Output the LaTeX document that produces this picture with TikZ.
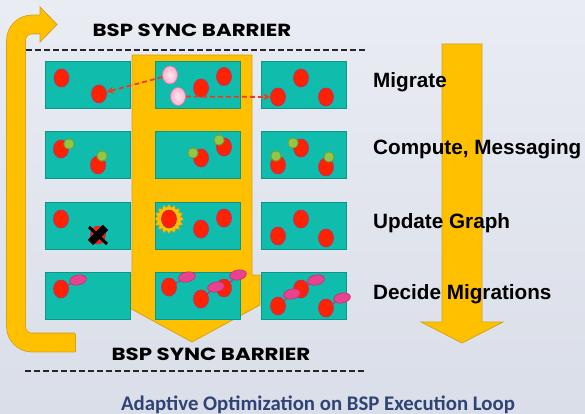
\documentclass[tikz,border=0pt]{standalone}
\usepackage{fontspec}
\setmainfont{Liberation Sans}
\newfontfamily\popfont{Poppins}[FakeStretch=1.22]
\newfontfamily\calfont{Carlito}
\usetikzlibrary{shapes.geometric,arrows.meta}
\definecolor{bgtop}{HTML}{E9ECF3}
\definecolor{bgbot}{HTML}{DADEE8}
\definecolor{gold}{HTML}{FFC000}
\definecolor{goldedge}{HTML}{D6A21A}
\definecolor{tealf}{HTML}{10BDAC}
\definecolor{teale}{HTML}{0B9686}
\definecolor{vred}{HTML}{FF2200}
\definecolor{vredge}{HTML}{B8306A}
\definecolor{pinkin}{HTML}{FFE8F0}
\definecolor{pinkf}{HTML}{FFB2CE}
\definecolor{pinke}{HTML}{E07CA4}
\definecolor{greenf}{HTML}{92C84A}
\definecolor{greene}{HTML}{6E9E2A}
\definecolor{blobf}{HTML}{E9428E}
\definecolor{blobe}{HTML}{C22E70}
\definecolor{arrred}{HTML}{F03A1E}
\definecolor{capblue}{HTML}{2F4376}
\tikzset{
  box/.style={rectangle, fill=tealf, draw=teale, line width=0.9pt, minimum width=85pt, minimum height=47pt, inner sep=0pt},
  vtx/.style={ellipse, fill=vred, draw=vredge, line width=0.7pt, minimum width=15pt, minimum height=18pt, inner sep=0pt},
  pvtx/.style={ellipse, draw=pinke, line width=0.7pt, inner color=pinkin, outer color=pinkf, minimum width=15pt, minimum height=18pt, inner sep=0pt},
  msg/.style={star, star points=12, star point ratio=1.25, fill=greenf, draw=greene, line width=0.5pt, minimum size=11pt, inner sep=0pt},
  blob/.style={ellipse, fill=blobf, draw=blobe, line width=0.6pt, minimum width=17pt, minimum height=10pt, inner sep=0pt, rotate=12},
  link/.style={draw=blobe, line width=0.9pt},
  sunst/.style={star, star points=16, star point ratio=1.25, fill=gold, draw=goldedge, line width=0.5pt, minimum size=29pt, inner sep=0pt},
  migr/.style={draw=arrred, line width=1.8pt, dash pattern=on 5pt off 3pt, -{Stealth[length=7pt,width=7pt]}},
  barrier/.style={draw=black!85, line width=2pt, dash pattern=on 6pt off 3pt},
  lab/.style={anchor=base west, font=\bfseries\fontsize{20.7}{24}\selectfont, inner sep=0pt},
  bsp/.style={anchor=base, font=\popfont\bfseries\fontsize{17.5}{20}\selectfont, inner sep=0pt},
  goldarrow/.style={fill=gold, draw=goldedge, line width=0.8pt}
}
\begin{document}
\begin{tikzpicture}[x=1pt,y=-1pt]
\useasboundingbox (0,0) rectangle (585,414);
\shade[top color=bgtop, bottom color=bgbot] (0,0) rectangle (585,414);

% left loop arrow
\draw[goldedge, line width=19.6pt, rounded corners=16pt] (75,342.5) -- (16,342.5) -- (16,24.5) -- (40.5,24.5);
\draw[gold, line width=18pt, rounded corners=16pt] (75.2,342.5) -- (16,342.5) -- (16,24.5) -- (41,24.5);
\fill[gold] (40,7) -- (57,24.5) -- (40,42) -- cycle;
\draw[goldedge, line width=0.8pt] (40,33.5) -- (40,42) -- (57,24.5) -- (40,7) -- (40,15.5);
\draw[goldedge, line width=0.8pt] (75,333.5) -- (75,351.5);

% central yellow arrow
\draw[goldarrow] (132,55) -- (252,55) -- (252,275) -- (260,275) -- (260,305) -- (192,342) -- (124,305) -- (124,275) -- (132,275) -- cycle;

% right arrow
\draw[goldarrow] (442,44) -- (482,44) -- (482,322) -- (503,322) -- (462,343) -- (421,322) -- (442,322) -- cycle;

% barriers
\node[bsp] (topbar) at (192,37) {BSP SYNC BARRIER};
\coordinate (tl) at (26,50.5);
\coordinate (tr) at (365,50.5);
\draw[barrier] (tl) -- (tr);
\node[bsp] (botbar) at (211,360) {BSP SYNC BARRIER};
\coordinate (bl) at (25,371);
\coordinate (br) at (364,371);
\draw[barrier] (bl) -- (br);

% boxes
\foreach \c/\x in {1/87.5,2/197.5,3/303.5}{
  \foreach \r/\y in {1/84.5,2/154.5,3/225.5,4/295.5}{
    \node[box] (b\r\c) at (\x,\y) {};
  }
}

% row 1: migrate
\node[vtx] (r1a) at (61.5,78) {};
\node[vtx] (r1b) at (99,94) {};
\node[vtx] (r1c) at (201,88) {};
\node[vtx] (r1d) at (224,76.5) {};
\node[pvtx] (p1) at (170,75) {};
\node[pvtx] (p2) at (178,96.5) {};
\node[vtx] (r1e) at (301,78) {};
\node[vtx] (r1f) at (278,97) {};
\node[vtx] (r1g) at (326,97) {};
\draw[migr] (p1) -- (r1b);
\draw[migr] (p2) -- (r1f);

% row 2: compute
\node[vtx] (r2a) at (61,149) {};
\node[msg] (g2a) at (69,144) {};
\node[vtx] (r2b) at (98,165) {};
\node[msg] (g2b) at (102,156) {};
\node[vtx] (r2c) at (201,158) {};
\node[msg] (g2c) at (193,153) {};
\node[vtx] (r2d) at (224,147) {};
\node[msg] (g2d) at (219,140) {};
\node[vtx] (r2e) at (301,148) {};
\node[msg] (g2e) at (293,143) {};
\node[vtx] (r2f) at (278,165) {};
\node[msg] (g2f) at (276,156) {};
\node[vtx] (r2g) at (326,167) {};
\node[msg] (g2g) at (329,157) {};

% row 3: update graph
\node[vtx] (r3a) at (61,219) {};
\node[vtx] (r3b) at (98,235) {};
\draw[black, line width=7.5pt] (105.5,227.5) -- (90.5,242.5);
\draw[black, line width=3pt] (89,227) -- (107,244);
\node[sunst] (sun) at (169,219) {};
\node[vtx] (r3c) at (169,219) {};
\node[vtx] (r3d) at (201,229) {};
\node[vtx] (r3e) at (224,218) {};
\node[vtx] (r3f) at (301,219) {};
\node[vtx] (r3g) at (278,236) {};
\node[vtx] (r3h) at (326,238) {};

% row 4: decide migrations
\node[vtx] (r4a) at (61,289) {};
\node[vtx] (r4b) at (169,287) {};
\node[vtx] (r4c) at (201,299) {};
\node[vtx] (r4d) at (224,288) {};
\node[vtx] (r4e) at (301,289) {};
\node[vtx] (r4f) at (278,306) {};
\node[vtx] (r4g) at (326,308) {};
\node[blob] (m4a) at (78,280) {};
\node[blob] (m4b) at (187,277) {};
\node[blob] (m4c) at (216,287) {};
\node[blob] (m4d) at (238,275) {};
\node[blob] (m4e) at (316,280) {};
\node[blob] (m4f) at (292,294) {};
\node[blob] (m4g) at (342,298) {};
\draw[link] (r4a) -- (m4a);
\draw[link] (r4b) -- (m4b);
\draw[link] (r4c) -- (m4c);
\draw[link] (r4d) -- (m4d);
\draw[link] (r4e) -- (m4e);
\draw[link] (r4f) -- (m4f);
\draw[link] (r4g) -- (m4g);

% labels
\node[lab] (l1) at (373,88) {Migrate};
\node[lab] (l2) at (373,154) {Compute, Messaging};
\node[lab] (l3) at (373,228) {Update Graph};
\node[lab] (l4) at (373,299) {Decide Migrations};

% caption
\node[anchor=base, inner sep=0pt, text=capblue, font=\calfont\bfseries\fontsize{20.8}{24}\selectfont] (cap) at (318,410) {Adaptive Optimization on BSP Execution Loop};
\end{tikzpicture}
\end{document}
